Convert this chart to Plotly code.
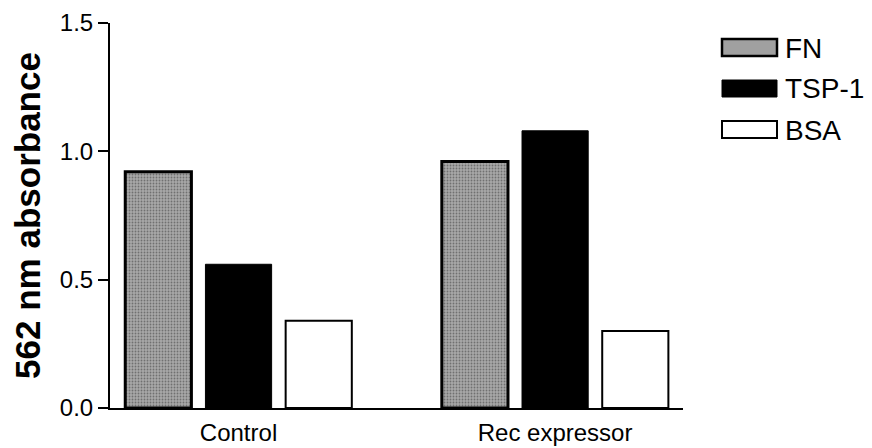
import plotly.graph_objects as go

categories = ["Control", "Rec expressor"]
series_names = ["FN", "TSP-1", "BSA"]
fn_values = [0.92, 0.96]
tsp1_values = [0.56, 1.08]
bsa_values = [0.34, 0.30]
y_ticks = [0.0, 0.5, 1.0, 1.5]
y_tick_labels = ["0.0", "0.5", "1.0", "1.5"]

# the page body adds an 8px offset; the figure is sized and placed to compensate
OFF = 8
W, H = 872 - OFF, 448 - OFF
ML, MR, MT, MB = 110 - OFF, 189, 23 - OFF, 40
PW, PH = W - ML - MR, H - MT - MB

FONT = "Liberation Sans, Arial, Helvetica, sans-serif"

styles = {
    "FN": dict(color="#a0a0a0", line=dict(color="black", width=3),
               pattern=dict(shape=".", fgcolor="#383838", bgcolor="#a8a8a8", size=3, solidity=0.3)),
    "TSP-1": dict(color="black", line=dict(color="black", width=1)),
    "BSA": dict(color="white", line=dict(color="black", width=2)),
}

fig = go.Figure()
for name, vals in zip(series_names, [fn_values, tsp1_values, bsa_values]):
    fig.add_trace(go.Bar(x=categories, y=vals, name=name, marker=styles[name], showlegend=False))

# custom legend with wide swatches (positions given in reference-image pixels)
def px2paper(px, py):
    return (px - OFF - ML) / PW, (H - MB - (py - OFF)) / PH

for i, name in enumerate(series_names):
    top = 39 + i * 41
    x0, y0 = px2paper(722, top)
    x1, y1 = px2paper(777, top + 17)
    st = styles[name]
    fig.add_shape(type="rect", xref="paper", yref="paper", x0=x0, x1=x1, y0=y1, y1=y0,
                  fillcolor=st["color"], line=dict(color="black", width=min(st["line"]["width"], 2.5)),
                  layer="above")
    tx, ty = px2paper(783, top + 9)
    fig.add_annotation(xref="paper", yref="paper", x=tx, y=ty, text=name, showarrow=False,
                       xanchor="left", yanchor="middle", font=dict(family=FONT, size=28, color="black"))

fig.update_layout(
    width=W, height=H,
    margin=dict(l=ML, r=MR, t=MT, b=MB, pad=0),
    paper_bgcolor="white", plot_bgcolor="white",
    barmode="group", bargap=0.24, bargroupgap=0.175,
    font=dict(family=FONT, size=24, color="black"),
)
fig.update_xaxes(
    type="category", range=[-0.406, 1.404],
    showline=True, linecolor="black", linewidth=2,
    ticks="", showgrid=False, zeroline=False, automargin=False,
    tickfont=dict(family=FONT, size=24), ticklabelstandoff=2,
)
fig.update_yaxes(
    range=[0, 1.5], tickvals=y_ticks, ticktext=y_tick_labels,
    showline=True, linecolor="black", linewidth=2,
    ticks="outside", ticklen=10, tickwidth=2, tickcolor="black",
    showgrid=False, zeroline=False, automargin=False,
    tickfont=dict(family=FONT, size=24),
    title=dict(text="<b>562 nm absorbance</b>", font=dict(family=FONT, size=35), standoff=19),
)

fig.write_html("out.html")
